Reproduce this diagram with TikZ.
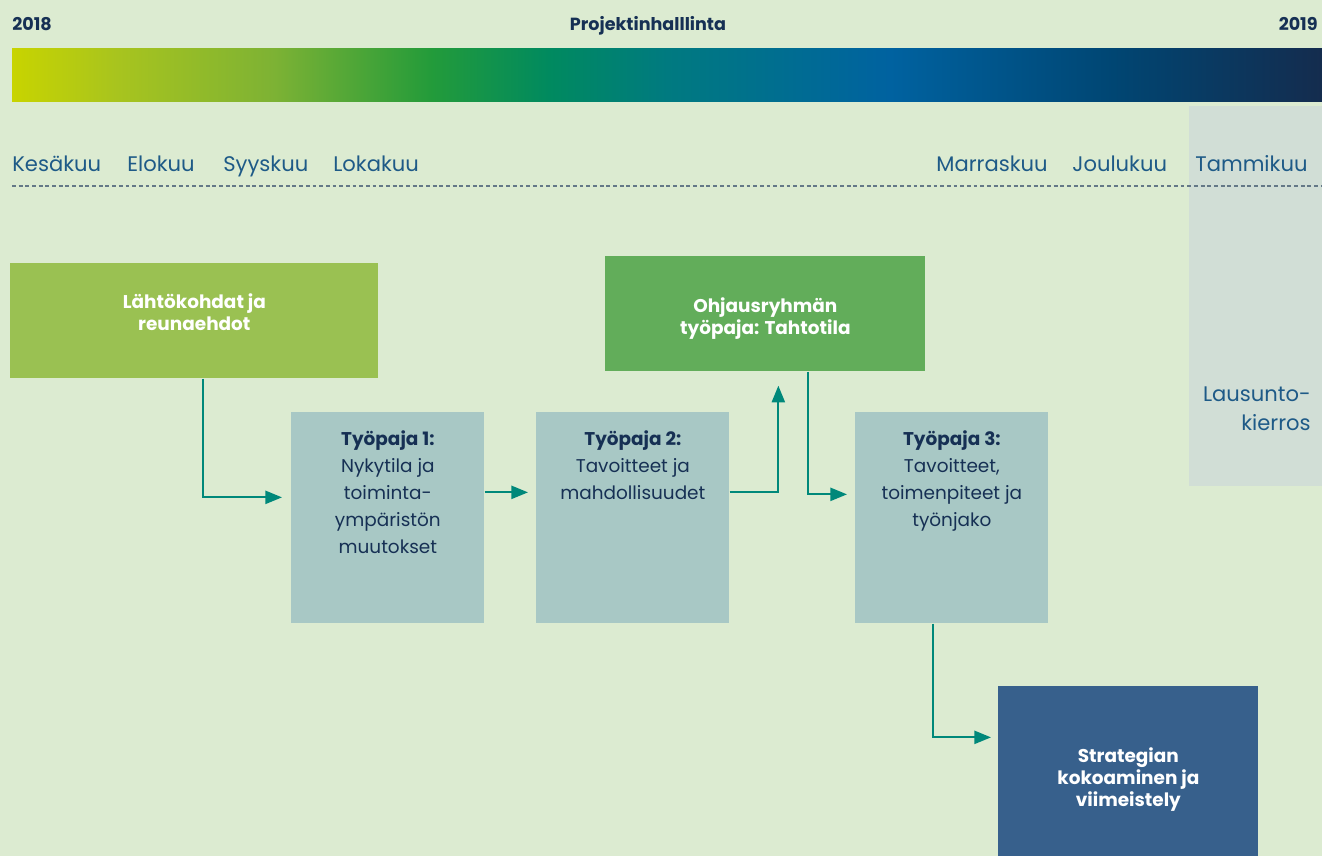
\documentclass[tikz,border=0pt]{standalone}
\usepackage{fontspec}
\setmainfont{Poppins}
\usepackage{xcolor}
\usepackage{tikz}
\usetikzlibrary{arrows.meta, positioning, calc}
\definecolor{bggreen}{RGB}{220,235,209}
\definecolor{navytext}{RGB}{22,48,84}
\definecolor{monthblue}{RGB}{30,90,135}
\definecolor{flowteal}{RGB}{0,136,122}
\definecolor{reviewgray}{RGB}{209,222,214}
\definecolor{limebox}{RGB}{154,193,82}
\definecolor{leafbox}{RGB}{98,173,90}
\definecolor{workblue}{RGB}{168,200,197}
\definecolor{finalblue}{RGB}{55,96,140}
\definecolor{dashgray}{RGB}{100,120,135}
% timeline gradient
\definecolor{tg0}{RGB}{200,212,0}
\definecolor{tg1}{RGB}{168,196,30}
\definecolor{tg2}{RGB}{125,178,52}
\definecolor{tg3}{RGB}{35,155,58}
\definecolor{tg4}{RGB}{0,138,95}
\definecolor{tg5}{RGB}{0,122,128}
\definecolor{tg6}{RGB}{0,98,160}
\definecolor{tg7}{RGB}{0,70,115}
\definecolor{tg8}{RGB}{20,44,78}
\pgfdeclarehorizontalshading{timebar}{100bp}{color(0bp)=(tg0); color(25bp)=(tg0);
  color(29bp)=(tg1); color(35bp)=(tg2); color(41bp)=(tg3); color(45.5bp)=(tg4);
  color(50bp)=(tg5); color(58.5bp)=(tg6); color(67bp)=(tg7); color(75bp)=(tg8); color(100bp)=(tg8)}

\begin{document}
\begin{tikzpicture}[
    phasebox/.style={fill=#1, inner sep=0pt, anchor=north west},
    phasetext/.style={text=white, align=center, inner sep=0pt, anchor=north,
        font=\bfseries\fontsize{10.5}{12.5}\selectfont},
    workbox/.style={fill=workblue, minimum width=3.86cm, minimum height=4.22cm, inner sep=0pt, anchor=north west},
    worktext/.style={font=\fontsize{10.5}{15.4}\selectfont, text=navytext, align=center, inner sep=0pt, anchor=north},
    month/.style={font=\fontsize{12}{16.5}\selectfont, text=monthblue, inner sep=0pt, anchor=base west},
    yearlabel/.style={font=\bfseries\fontsize{10}{12}\selectfont, text=navytext, inner sep=0pt},
    flow/.style={draw=flowteal, line width=1.1pt, -{Triangle[length=9.5pt, width=7.5pt]}}]
    \useasboundingbox (0,0) rectangle (26.44,-17.12);
    \fill[bggreen] (0,0) rectangle (26.44,-17.12);

    % Lausuntokierros column
    \fill[reviewgray] (23.78,-2.12) rectangle (26.44,-9.72);

    % Header and timeline
    \node[yearlabel, anchor=base west] (y18) at (0.24,-0.62) {2018};
    \node[yearlabel, anchor=base] (proj) at (12.96,-0.62) {Projektinhalllinta};
    \node[yearlabel, anchor=base east] (y19) at (26.36,-0.62) {2019};
    \shade[shading=timebar] (0.24,-0.98) rectangle (26.44,-2.04);

    % Months
    \foreach \x/\kk/\name in {0.24/kesa/Kesäkuu, 2.54/elo/Elokuu, 4.46/syys/Syyskuu, 6.66/loka/Lokakuu,
        18.72/marras/Marraskuu, 21.44/joulu/Joulukuu, 23.90/tammi/Tammikuu} {
        \node[month] (m-\kk) at (\x,-3.42) {\name};
    }
    \draw[dashgray, line width=0.6pt, dash pattern=on 2.2pt off 1.6pt] (0.24,-3.72) -- (26.44,-3.72);
    \node[month, anchor=east, align=right] (lausunto) at (26.22,-8.17) {Lausunto-\\kierros};

    % Phases
    \node[phasebox=limebox, minimum width=7.36cm, minimum height=2.3cm] (start) at (0.2,-5.26) {};
    \node[phasebox=leafbox, minimum width=6.4cm, minimum height=2.3cm] (ohjaus) at (12.1,-5.12) {};
    \node[workbox] (tp1) at (5.82,-8.24) {};
    \node[workbox] (tp2) at (10.72,-8.24) {};
    \node[workbox] (tp3) at (17.1,-8.24) {};
    \node[phasebox=finalblue, minimum width=5.2cm, minimum height=3.4cm] (strat) at (19.96,-13.72) {};

    \node[phasetext, below=0.6cm of start.north] (starttxt) {Lähtökohdat ja\\reunaehdot};
    \node[phasetext, below=0.82cm of ohjaus.north] (ohjaustxt) {Ohjausryhmän\\työpaja: Tahtotila};
    \node[worktext, below=0.36cm of tp1.north] (tp1txt)
        {\textbf{Työpaja 1:}\\Nykytila ja\\toiminta-\\ympäristön\\muutokset};
    \node[worktext, below=0.36cm of tp2.north] (tp2txt)
        {\textbf{Työpaja 2:}\\Tavoitteet ja\\mahdollisuudet};
    \node[worktext, below=0.36cm of tp3.north] (tp3txt)
        {\textbf{Työpaja 3:}\\Tavoitteet,\\toimenpiteet ja\\työnjako};
    \node[phasetext, below=1.22cm of strat.north] (strattxt) {Strategian\\kokoaminen ja\\viimeistely};

    % Flow
    \draw[flow] ([xshift=0.18cm]start.south) |- ([xshift=-0.18cm, yshift=0.41cm]tp1.west);
    \draw[flow] ([yshift=0.51cm]tp1.east) -- ([xshift=-0.16cm, yshift=0.51cm]tp2.west);
    \draw[flow] ([yshift=0.51cm]tp2.east) -| ([xshift=0.26cm, yshift=-0.28cm]ohjaus.south);
    \draw[flow] ([xshift=0.86cm]ohjaus.south) |- ([xshift=-0.16cm, yshift=0.47cm]tp3.west);
    \draw[flow] ([xshift=-0.37cm]tp3.south) |- ([xshift=-0.14cm, yshift=0.68cm]strat.west);
\end{tikzpicture}
\end{document}
